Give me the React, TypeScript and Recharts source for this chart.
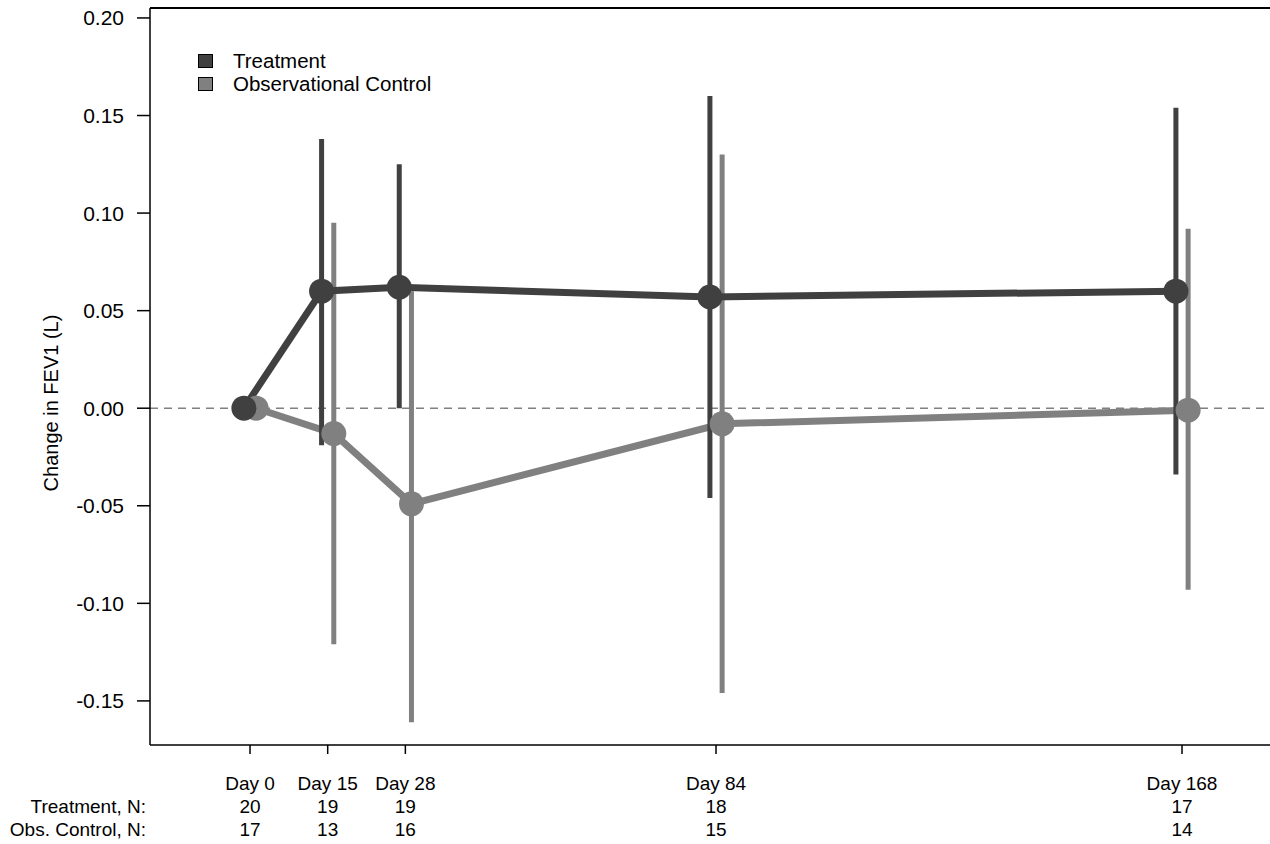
import { LineChart, Line, XAxis, YAxis, ErrorBar, ReferenceLine } from "recharts";

// x positions of the visits (Day 15 sits at day 14 on the reference axis)
const dayPositions = [0, 14, 28, 84, 168];
const dayLabels = ["Day 0", "Day 15", "Day 28", "Day 84", "Day 168"];
const treatmentN = [20, 19, 19, 18, 17];
const controlN = [17, 13, 16, 15, 14];

const treatmentMean = [0, 0.06, 0.062, 0.057, 0.06];
const treatmentLow = [null, -0.019, 0.0, -0.046, -0.034];
const treatmentHigh = [null, 0.138, 0.125, 0.16, 0.154];

const controlMean = [0, -0.013, -0.049, -0.008, -0.001];
const controlLow = [null, -0.121, -0.161, -0.146, -0.093];
const controlHigh = [null, 0.095, 0.06, 0.13, 0.092];

const yTicks = [-0.15, -0.1, -0.05, 0, 0.05, 0.1, 0.15, 0.2];

const DARK = "#404040";
const GREY = "#808080";
const FONT = "'Liberation Sans', Arial, sans-serif";

const X_DOMAIN = [-18.03, 183.86];
const Y_DOMAIN = [-0.1726, 0.2051];

function buildSeries(mean: number[], low: (number | null)[], high: (number | null)[], shift: number) {
  return dayPositions.map((d, i) => ({
    x: d + shift,
    y: mean[i],
    err: low[i] == null || high[i] == null ? null : [mean[i] - (low[i] as number), (high[i] as number) - mean[i]],
  }));
}

const treatmentData = buildSeries(treatmentMean, treatmentLow, treatmentHigh, -1.1);
const controlData = buildSeries(controlMean, controlLow, controlHigh, 1.1);

const legendItems = [
  { name: "Treatment", color: DARK },
  { name: "Observational Control", color: GREY },
];

function DayTick(props: any) {
  const { x, y, payload } = props;
  const i = dayPositions.indexOf(payload.value);
  const style = { fontFamily: FONT, fontSize: 19, fill: "#000" };
  return (
    <g>
      <text x={x} y={y + 34} textAnchor="middle" style={style}>{dayLabels[i]}</text>
      <text x={x} y={y + 57} textAnchor="middle" style={style}>{treatmentN[i]}</text>
      <text x={x} y={y + 80} textAnchor="middle" style={style}>{controlN[i]}</text>
      {i === 0 && (
        <>
          <text x={146} y={y + 57} textAnchor="end" style={style}>Treatment, N:</text>
          <text x={146} y={y + 80} textAnchor="end" style={style}>Obs. Control, N:</text>
        </>
      )}
    </g>
  );
}

function LegendBox() {
  return (
    <div style={{ position: "absolute", left: 198, top: 49, fontFamily: FONT, fontSize: 20.5, color: "#000" }}>
      {legendItems.map((item) => (
        <div key={item.name} style={{ display: "flex", alignItems: "center", height: 23 }}>
          <span
            style={{
              display: "inline-block",
              width: 13,
              height: 12,
              background: item.color,
              border: "1px solid #000",
              marginRight: 20,
            }}
          />
          <span>{item.name}</span>
        </div>
      ))}
    </div>
  );
}

export default function App() {
  return (
    <div style={{ position: "absolute", left: 0, top: 0, width: 1270, height: 844, background: "#fff" }}>
      <LineChart width={1270} height={844} margin={{ top: 8, right: 0, bottom: 0, left: 0 }}>
        <XAxis
          type="number"
          dataKey="x"
          domain={X_DOMAIN}
          ticks={dayPositions}
          allowDataOverflow
          height={99}
          tickSize={9}
          tickMargin={2}
          tick={<DayTick />}
          axisLine={{ stroke: "#000", strokeWidth: 1.5 }}
          tickLine={{ stroke: "#000", strokeWidth: 1.5 }}
        />
        <YAxis
          type="number"
          domain={Y_DOMAIN}
          ticks={yTicks}
          allowDataOverflow
          width={150}
          tickSize={13}
          tickMargin={13}
          tickFormatter={(v: number) => v.toFixed(2)}
          tick={{ fontFamily: FONT, fontSize: 21, fill: "#000" }}
          axisLine={{ stroke: "#000", strokeWidth: 1.5 }}
          tickLine={{ stroke: "#000", strokeWidth: 1.5 }}
          label={{
            content: () => (
              <text
                x={51}
                y={403}
                transform="rotate(-90, 51, 403)"
                textAnchor="middle"
                dominantBaseline="central"
                style={{ fontFamily: FONT, fontSize: 20, fill: "#000" }}
              >
                Change in FEV1 (L)
              </text>
            ),
          }}
        />
        <ReferenceLine y={Y_DOMAIN[1]} stroke="#000" strokeWidth={2} />
        <ReferenceLine y={0} stroke={GREY} strokeWidth={1.5} strokeDasharray="8 6" />
        <Line
          data={controlData}
          dataKey="y"
          name="Observational Control"
          stroke={GREY}
          strokeWidth={7}
          dot={{ r: 12.5, fill: GREY, stroke: "none" }}
          activeDot={false}
          isAnimationActive={false}
        >
          <ErrorBar dataKey="err" direction="y" width={0} stroke={GREY} strokeWidth={5} isAnimationActive={false} />
        </Line>
        <Line
          data={treatmentData}
          dataKey="y"
          name="Treatment"
          stroke={DARK}
          strokeWidth={7}
          dot={{ r: 12.5, fill: DARK, stroke: "none" }}
          activeDot={false}
          isAnimationActive={false}
        >
          <ErrorBar dataKey="err" direction="y" width={0} stroke={DARK} strokeWidth={5} isAnimationActive={false} />
        </Line>
      </LineChart>
      <LegendBox />
    </div>
  );
}
